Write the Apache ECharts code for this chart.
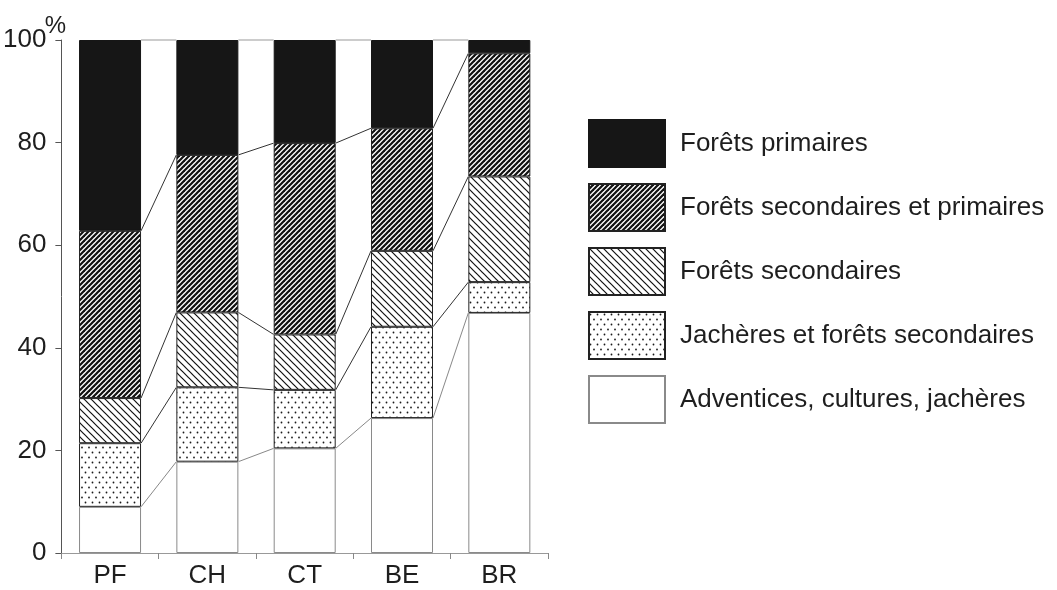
<!DOCTYPE html>
<html>
<head>
<meta charset="utf-8">
<script src="https://cdn.jsdelivr.net/npm/echarts@6/dist/echarts.min.js"></script>
<style>
html,body{margin:0;padding:0;background:#fff;}
#chart{width:1057px;height:590px;}
</style>
</head>
<body>
<div id="chart"></div>
<script>
// ---- data ----
const categories = ['PF', 'CH', 'CT', 'BE', 'BR'];
const seriesNames = [
  'Adventices, cultures, jachères',
  'Jachères et forêts secondaires',
  'Forêts secondaires',
  'Forêts secondaires et primaires',
  'Forêts primaires'
];
const adventices   = [9.0, 17.8, 20.4, 26.3, 46.8];
const jacheres     = [12.4, 14.5, 11.4, 17.8, 6.0];
const foretsSec    = [8.8, 14.6, 10.8, 14.8, 20.6];
const foretsSecPrim= [32.6, 30.7, 37.3, 23.9, 24.0];
const foretsPrim   = [37.2, 22.4, 20.1, 17.2, 2.6];
const yTicks = [0, 20, 40, 60, 80, 100];

// ---- styles ----
const BAR_W = 62;
const FONT = 'Liberation Sans, Arial, sans-serif';
const TXT = '#1e1e1e';

function makeCanvas(w, h) {
  const c = document.createElement('canvas');
  c.width = w; c.height = h;
  const ctx = c.getContext('2d');
  ctx.fillStyle = '#fff';
  ctx.fillRect(0, 0, w, h);
  return [c, ctx];
}
function slashPattern(p, lw) { // "/" lines
  const [c, ctx] = makeCanvas(p, p);
  ctx.strokeStyle = '#111'; ctx.lineWidth = lw; ctx.lineCap = 'square';
  for (let k = -1; k <= 1; k++) {
    ctx.beginPath(); ctx.moveTo(k * p, p); ctx.lineTo(k * p + p, 0); ctx.stroke();
  }
  return c;
}
function backslashPattern(p, lw) { // "\" lines
  const [c, ctx] = makeCanvas(p, p);
  ctx.strokeStyle = '#111'; ctx.lineWidth = lw; ctx.lineCap = 'square';
  for (let k = -1; k <= 1; k++) {
    ctx.beginPath(); ctx.moveTo(k * p, 0); ctx.lineTo(k * p + p, p); ctx.stroke();
  }
  return c;
}
function dotPattern() {
  const [c, ctx] = makeCanvas(7, 10);
  ctx.fillStyle = '#1a1a1a';
  ctx.beginPath(); ctx.arc(1.5, 2.5, 0.9, 0, Math.PI * 2); ctx.fill();
  ctx.beginPath(); ctx.arc(5, 7.5, 0.9, 0, Math.PI * 2); ctx.fill();
  return c;
}

const fills = [
  '#ffffff',
  { image: dotPattern(), repeat: 'repeat' },
  { image: backslashPattern(7, 1.2), repeat: 'repeat' },
  { image: slashPattern(5, 2.2), repeat: 'repeat' },
  '#161616'
];
const borders = ['#8a8a8a', '#222', '#222', '#222', '#161616'];

const values = [adventices, jacheres, foretsSec, foretsSecPrim, foretsPrim];

// cumulative levels for connectors
const connectorData = [];
const cum = categories.map(() => 0);
values.forEach((arr, s) => {
  arr.forEach((v, i) => { cum[i] += v; });
  for (let i = 0; i < categories.length - 1; i++) {
    connectorData.push([i, cum[i], cum[i + 1], s]);
  }
});

const barSeries = values.map((arr, s) => ({
  name: seriesNames[s],
  type: 'bar',
  stack: 'total',
  barWidth: BAR_W,
  data: arr,
  itemStyle: { color: fills[s], borderColor: borders[s], borderWidth: 1 },
  emphasis: { disabled: true },
  silent: true
}));

const connectorSeries = {
  type: 'custom',
  name: 'conn',
  silent: true,
  encode: { x: 0, y: 1 },
  data: connectorData,
  z: 5,
  renderItem: function (params, api) {
    const i = api.value(0);
    const a = api.coord([i, api.value(1)]);
    const b = api.coord([i + 1, api.value(2)]);
    const s = api.value(3);
    return {
      type: 'line',
      shape: { x1: a[0] + BAR_W / 2, y1: a[1], x2: b[0] - BAR_W / 2, y2: b[1] },
      style: { stroke: s === 0 ? '#888' : (s === 4 ? '#999' : '#333'), lineWidth: 1 }
    };
  }
};

const chart = echarts.init(document.getElementById('chart'), null, { renderer: 'canvas' });
chart.setOption({
  animation: false,
  backgroundColor: '#fff',
  grid: { left: 59, right: 509, top: 40, bottom: 37 },
  legend: {
    data: seriesNames.slice().reverse(),
    orient: 'vertical',
    left: 588,
    top: 119,
    padding: 0,
    itemWidth: 76,
    itemHeight: 47,
    itemGap: 15,
    icon: 'rect',
    selectedMode: false,
    textStyle: { fontSize: 26, color: TXT, fontFamily: FONT, padding: [0, 0, 0, 10] }
  },
  xAxis: {
    type: 'category',
    data: categories,
    axisLine: { lineStyle: { color: '#999', width: 1 } },
    axisTick: { show: true, length: 6, lineStyle: { color: '#888' } },
    axisLabel: { fontSize: 26, color: TXT, fontFamily: FONT, margin: 10 }
  },
  yAxis: {
    type: 'value',
    min: yTicks[0],
    max: yTicks[yTicks.length - 1],
    interval: 20,
    name: '%',
    nameLocation: 'end',
    nameGap: 26,
    nameMoveOverlap: false,
    nameTextStyle: { fontSize: 24, color: TXT, fontFamily: FONT, verticalAlign: 'top', padding: [0, 12, 0, 0] },
    splitLine: { show: false },
    axisLine: { show: true, lineStyle: { color: '#555', width: 1 } },
    axisTick: { show: true, length: 6, lineStyle: { color: '#555' } },
    axisLabel: { fontSize: 26, color: TXT, fontFamily: FONT, margin: 15 }
  },
  series: barSeries.concat([connectorSeries])
});
</script>
</body>
</html>
